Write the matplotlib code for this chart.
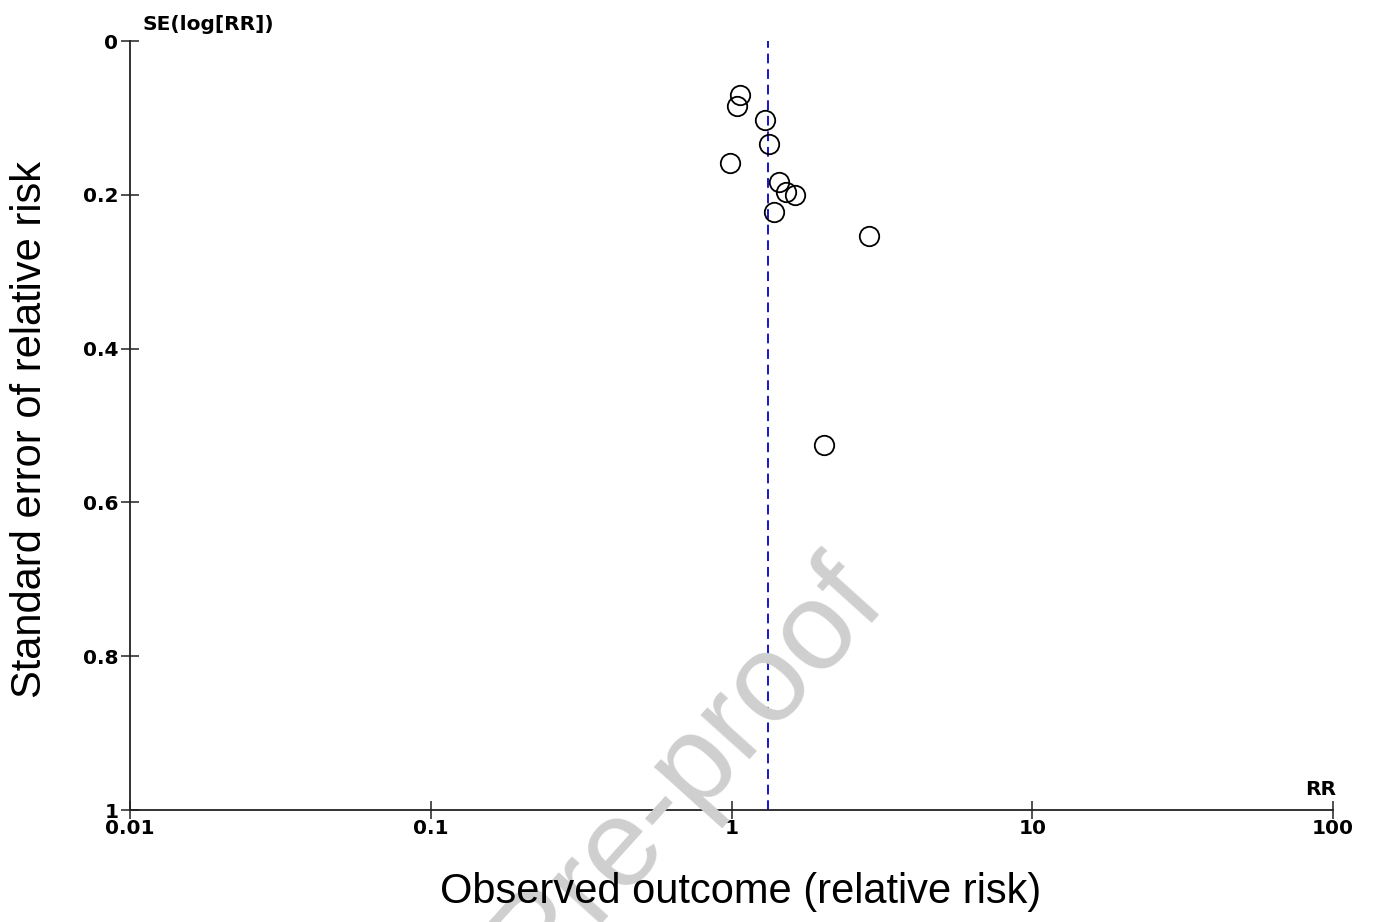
import numpy as np
import matplotlib.pyplot as plt

# --- DATA ---
RR = [1.07, 1.04, 1.29, 1.33, 0.985, 1.44, 1.52, 1.63, 1.38, 2.87, 2.03]
SE = [0.070, 0.085, 0.103, 0.134, 0.159, 0.184, 0.196, 0.200, 0.222, 0.253, 0.525]
POOLED_RR = 1.32
X_TICKS = [0.01, 0.1, 1, 10, 100]
X_LABELS = ["0.01", "0.1", "1", "10", "100"]
Y_TICKS = [0, 0.2, 0.4, 0.6, 0.8, 1]
Y_LABELS = ["0", "0.2", "0.4", "0.6", "0.8", "1"]

W, H = 1378, 922
fig = plt.figure(figsize=(W / 100, H / 100), dpi=100)
ax = fig.add_axes([130 / W, 1 - 810 / H, (1333 - 130) / W, (810 - 41) / H])

# watermark (cut by the page edge, as in the source)
fig.text(889 / W, 1 - 605 / H, "Journal Pre-proof", fontsize=90,
         family="Liberation Sans", color="#cfcfcf",
         rotation=48, rotation_mode="anchor", ha="right", va="baseline",
         zorder=0)
ax.patch.set_alpha(0)

ax.plot(RR, SE, "o", mfc="none", mec="black", ms=14, mew=1.3,
        zorder=3, clip_on=False)
ax.axvline(POOLED_RR, color="#1515cc", ls=(0, (5, 3)), lw=1.4, zorder=2)

ax.set_xscale("log")
ax.set_xlim(0.01, 100)
ax.set_ylim(1, 0)
ax.set_xticks(X_TICKS)
ax.set_xticklabels(X_LABELS)
ax.set_yticks(Y_TICKS)
ax.set_yticklabels(Y_LABELS)
ax.minorticks_off()

for s in ["top", "right"]:
    ax.spines[s].set_visible(False)
for s in ["left", "bottom"]:
    ax.spines[s].set_linewidth(1.3)
    ax.spines[s].set_color("#222222")

ax.tick_params(direction="inout", length=13, width=1.1, color="#222222",
               labelsize=14.5)
ax.tick_params(axis="x", pad=0)
ax.tick_params(axis="y", pad=2)
for lab in ax.get_xticklabels() + ax.get_yticklabels():
    lab.set_fontweight("bold")

ax.text(143 / W, 1 - 25 / H, "SE(log[RR])", transform=fig.transFigure,
        fontsize=14.5, fontweight="bold", ha="left", va="center")
ax.text(1336 / W, 1 - 789 / H, "RR", transform=fig.transFigure,
        fontsize=14.5, fontweight="bold", ha="right", va="center")

fig.text(741 / W, 1 - 892 / H, "Observed outcome (relative risk)",
         fontsize=30, family="Liberation Sans", ha="center", va="center")
fig.text(30 / W, 1 - 430 / H, "Standard error of relative risk",
         fontsize=30, family="Liberation Sans", ha="center", va="center",
         rotation=90)

fig.savefig("out.png", dpi=100)
